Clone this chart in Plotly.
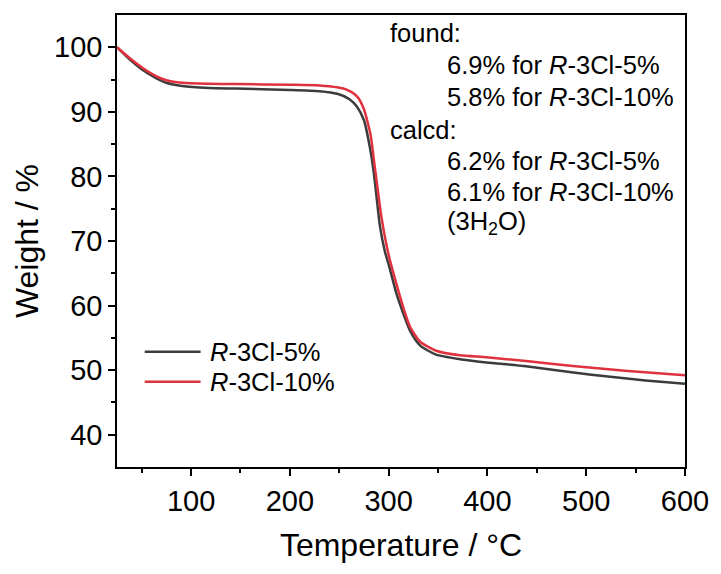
import plotly.graph_objects as go

# Temperature (°C) and weight (%)
temp_5 = [25, 38, 51, 65, 75, 91, 118, 145, 200, 230, 248, 260, 268, 275, 281, 285,
          288, 291, 296, 301, 308, 315, 322, 332, 348, 372, 399, 439, 489, 522, 560, 600]
weight_5 = [100, 98.1, 96.5, 95.2, 94.5, 94.0, 93.7, 93.6, 93.4, 93.2, 92.8, 92.0, 90.8,
            88.7, 84.5, 80.5, 76.5, 72.5, 68.5, 65.8, 61.8, 58.7, 56.0, 53.8, 52.4, 51.7,
            51.2, 50.6, 49.6, 49.0, 48.4, 47.9]

temp_10 = [25, 38, 51, 65, 75, 91, 118, 145, 200, 230, 248, 258, 268, 275, 282, 285,
           288.5, 292, 297, 301, 308.5, 315, 322, 332, 348, 372, 399, 439, 489, 539, 600]
weight_10 = [100, 98.3, 96.8, 95.5, 94.9, 94.5, 94.35, 94.3, 94.2, 94.1, 93.8, 93.4, 92.4,
             90.4, 86.2, 82.6, 78.5, 74.4, 70.0, 67.2, 63.0, 59.6, 56.6, 54.4, 53.0, 52.3,
             52.0, 51.4, 50.6, 49.9, 49.2]

series_names = ["<i>R</i>-3Cl-5%", "<i>R</i>-3Cl-10%"]
series_colors = ["#3c3c3c", "#e0323e"]

note_lines = [
    ("found:", 0),
    ("6.9% for <i>R</i>-3Cl-5%", 1),
    ("5.8% for <i>R</i>-3Cl-10%", 1),
    ("calcd:", 0),
    ("6.2% for <i>R</i>-3Cl-5%", 1),
    ("6.1% for <i>R</i>-3Cl-10%", 1),
    ("(3H<sub>2</sub>O)", 1),
]

FONT = "Arial, Liberation Sans, sans-serif"

fig = go.Figure()
for t, w, c in [(temp_5, weight_5, series_colors[0]), (temp_10, weight_10, series_colors[1])]:
    fig.add_trace(go.Scatter(x=t, y=w, mode="lines",
                             line=dict(color=c, width=2.5, shape="spline", smoothing=0.6),
                             showlegend=False, hoverinfo="skip"))

# plot area in pixels: left 117, right 691, top 15, bottom 467
L, R, T, B = 117, 691, 15, 467
W, H = R - L, B - T

def px(x):
    return (x - L) / W

def py(y):
    return (B - y) / H

annotations = []
line_y = [33, 65, 97, 130, 161, 192, 223]
for (txt, indent), yy in zip(note_lines, line_y):
    annotations.append(dict(text=txt, xref="paper", yref="paper", x=px(390.5 if indent == 0 else 448),
                            y=py(yy), xanchor="left", yanchor="middle", showarrow=False,
                            font=dict(family=FONT, size=25.5, color="black")))

shapes = []
for name, col, yy in zip(series_names, series_colors, [351.7, 381.7]):
    shapes.append(dict(type="line", xref="paper", yref="paper", x0=px(145), x1=px(201.5),
                       y0=py(yy), y1=py(yy), line=dict(color=col, width=2.5)))
    annotations.append(dict(text=name, xref="paper", yref="paper", x=px(208.5), y=py(yy),
                            xanchor="left", yanchor="middle", showarrow=False,
                            font=dict(family=FONT, size=25.5, color="black")))

axis_common = dict(showline=True, linecolor="black", linewidth=1.5, mirror=True,
                   ticks="outside", ticklen=7, tickwidth=1.5, tickcolor="black",
                   showgrid=False, zeroline=False,
                   tickfont=dict(family=FONT, size=29, color="black"))

fig.update_layout(
    width=721, height=574,
    margin=dict(l=L, r=721 - R, t=T, b=574 - B),
    paper_bgcolor="white", plot_bgcolor="white",
    xaxis=dict(range=[25, 600], tickvals=[100, 200, 300, 400, 500, 600],
               minor=dict(tickvals=[50, 150, 250, 350, 450, 550], ticks="outside", ticklen=4,
                          tickwidth=1.5, tickcolor="black"),
               title=dict(text="Temperature / °C", font=dict(family=FONT, size=32, color="black"), standoff=18),
               **axis_common),
    yaxis=dict(range=[35, 105], tickvals=[40, 50, 60, 70, 80, 90, 100],
               minor=dict(tickvals=[45, 55, 65, 75, 85, 95], ticks="outside", ticklen=4,
                          tickwidth=1.5, tickcolor="black"),
               title=dict(text="Weight / %", font=dict(family=FONT, size=32, color="black"), standoff=6),
               **axis_common),
    annotations=annotations,
    shapes=shapes,
)

fig.write_html("out.html")
